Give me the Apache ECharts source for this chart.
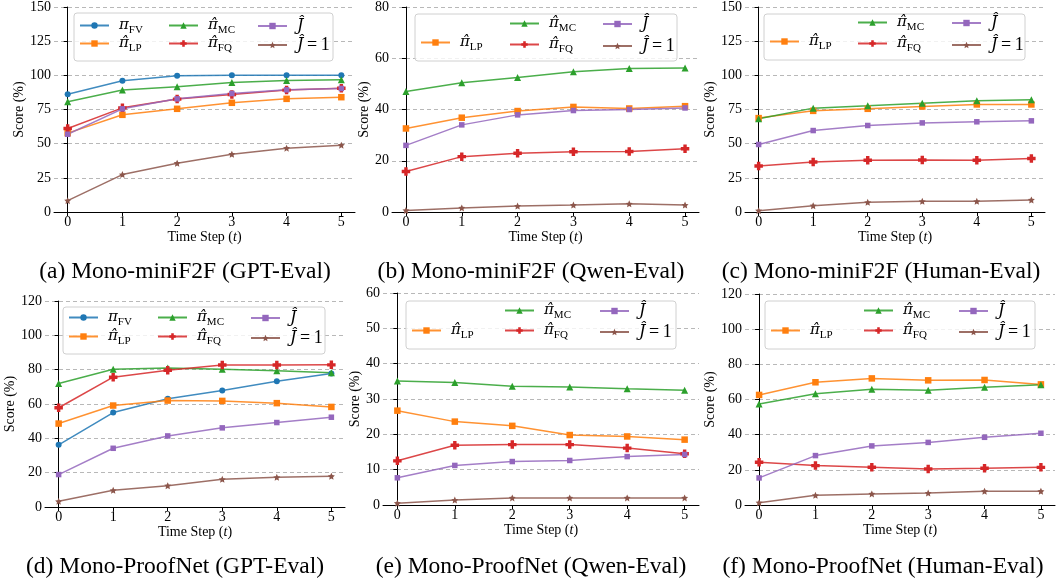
<!DOCTYPE html>
<html><head><meta charset="utf-8">
<script src="https://cdn.jsdelivr.net/npm/echarts@6/dist/echarts.min.js"></script>
<style>html,body{margin:0;padding:0;background:#fff}#c{width:1056px;height:581px}</style>
</head><body><div id="c"></div>
<script>
// ---------- data ----------
const steps = [0, 1, 2, 3, 4, 5];
const tickLabels = ['0', '1', '2', '3', '4', '5'];
const captions = ['(a) Mono-miniF2F (GPT-Eval)', '(b) Mono-miniF2F (Qwen-Eval)', '(c) Mono-miniF2F (Human-Eval)',
                  '(d) Mono-ProofNet (GPT-Eval)', '(e) Mono-ProofNet (Qwen-Eval)', '(f) Mono-ProofNet (Human-Eval)'];
const seriesKeys = ['FV', 'LP', 'MC', 'FQ', 'J', 'J1'];

const a_FV = [86.2, 96.0, 99.7, 100, 100, 100];
const a_LP = [57.7, 71.1, 75.5, 79.9, 82.8, 84.0];
const a_MC = [80.6, 89.2, 91.6, 94.8, 96.3, 96.7];
const a_FQ = [61.1, 76.2, 82.6, 86.0, 89.2, 90.6];
const a_J  = [56.9, 75.5, 82.8, 86.7, 89.4, 90.4];
const a_J1 = [8.3, 27.4, 35.7, 42.3, 46.7, 48.9];

const b_LP = [32.6, 36.8, 39.4, 41.0, 40.4, 41.3];
const b_MC = [47.0, 50.4, 52.5, 54.7, 56.0, 56.2];
const b_FQ = [15.8, 21.6, 22.9, 23.5, 23.6, 24.7];
const b_J  = [26.0, 34.0, 37.9, 39.6, 40.0, 40.6];
const b_J1 = [0.6, 1.6, 2.3, 2.7, 3.2, 2.7];

const c_LP = [68.7, 74.0, 75.5, 77.2, 78.7, 78.7];
const c_MC = [68.2, 76.0, 77.7, 79.6, 81.4, 82.1];
const c_FQ = [33.7, 36.6, 37.9, 38.1, 37.9, 39.1];
const c_J  = [49.4, 59.6, 63.3, 65.2, 66.0, 66.7];
const c_J1 = [1.0, 4.6, 7.1, 7.8, 7.8, 8.8];

const d_FV = [36.2, 55.0, 63.0, 67.9, 73.3, 77.8];
const d_LP = [48.6, 59.1, 62.0, 61.8, 60.5, 58.3];
const d_MC = [72.0, 80.3, 80.9, 80.3, 79.3, 78.2];
const d_FQ = [57.8, 75.6, 79.7, 82.7, 82.7, 82.8];
const d_J  = [18.9, 34.2, 41.4, 46.1, 49.2, 52.3];
const d_J1 = [3.3, 9.7, 12.4, 16.1, 17.3, 17.9];

const e_LP = [26.7, 23.6, 22.4, 19.8, 19.4, 18.5];
const e_MC = [35.1, 34.7, 33.6, 33.4, 32.9, 32.5];
const e_FQ = [12.5, 16.9, 17.1, 17.1, 16.1, 14.5];
const e_J  = [7.7, 11.2, 12.3, 12.6, 13.7, 14.3];
const e_J1 = [0.5, 1.4, 2.0, 2.0, 2.0, 2.0];

const f_LP = [62.6, 69.8, 72.0, 70.9, 71.1, 68.6];
const f_MC = [57.4, 63.3, 65.8, 65.2, 66.9, 68.4];
const f_FQ = [24.3, 22.4, 21.5, 20.5, 20.9, 21.4];
const f_J  = [15.4, 28.1, 33.6, 35.6, 38.5, 40.8];
const f_J1 = [1.3, 5.5, 6.3, 6.8, 7.8, 7.8];

const yMax = [150, 80, 150, 120, 60, 120];
const yInterval = [25, 20, 25, 20, 10, 20];

const panelData = [
  {FV: a_FV, LP: a_LP, MC: a_MC, FQ: a_FQ, J: a_J, J1: a_J1},
  {LP: b_LP, MC: b_MC, FQ: b_FQ, J: b_J, J1: b_J1},
  {LP: c_LP, MC: c_MC, FQ: c_FQ, J: c_J, J1: c_J1},
  {FV: d_FV, LP: d_LP, MC: d_MC, FQ: d_FQ, J: d_J, J1: d_J1},
  {LP: e_LP, MC: e_MC, FQ: e_FQ, J: e_J, J1: e_J1},
  {LP: f_LP, MC: f_MC, FQ: f_FQ, J: f_J, J1: f_J1}
];

// ---------- styles / layout ----------
const SERIF = '"Liberation Serif", "DejaVu Serif", serif';
const MATH = '"DejaVu Serif", serif';
const colors = {FV: '#1f77b4', LP: '#ff7f0e', MC: '#2ca02c', FQ: '#d62728', J: '#9467bd', J1: '#8c564b'};
const symbols = {
  FV: 'circle', LP: 'rect', MC: 'triangle',
  FQ: 'path://M3,0H7V3H10V7H7V10H3V7H0V3H3Z',
  J: 'rect',
  J1: 'path://M5,0L6.5,3.2L10,3.6L7.4,6L8.1,9.6L5,7.8L1.9,9.6L2.6,6L0,3.6L3.5,3.2Z'
};
const symSizes = {FV: 6, LP: 6.5, MC: 7, FQ: 8.5, J: 5.5, J1: 7};

const grids = [
  {left: 54, top: 7, width: 301, height: 205},
  {left: 392, top: 7, width: 307, height: 205},
  {left: 745, top: 7, width: 300, height: 205},
  {left: 45, top: 301, width: 300, height: 206},
  {left: 383, top: 293, width: 316, height: 212},
  {left: 745, top: 294, width: 310, height: 211}
];
const yNameGap = [23, 18, 22, 26, 19, 25];
const captionPos = [[185, 272], [531, 272], [881, 272], [175, 567], [531, 567], [883, 567]];
const legendBoxes = [
  [74, 13, 259, 48], [415, 14, 262, 47], [764, 14, 261, 46],
  [63, 307, 262, 47], [406, 301, 270, 48], [765, 301, 270, 48]
];
const legendSpots = [
  {FV: [79, 28], LP: [79, 46], MC: [168, 28], FQ: [168, 46], J: [257, 28], J1: [257, 46]},
  {LP: [420, 45], MC: [509, 26], FQ: [509, 47], J: [602, 26], J1: [602, 47]},
  {LP: [769, 44], MC: [857, 25], FQ: [857, 46], J: [951, 25], J1: [951, 46]},
  {FV: [68, 320], LP: [68, 339], MC: [157, 320], FQ: [157, 339], J: [250, 320], J1: [250, 339]},
  {LP: [411, 333], MC: [504, 313], FQ: [504, 333], J: [599, 313], J1: [599, 333]},
  {LP: [770, 333], MC: [863, 313], FQ: [863, 333], J: [958, 313], J1: [958, 333]}
];

const legendLabel = {
  FV: '{g|}{pi|π}{sub|FV}',
  LP: '{g|}{pi|π\u0302}{sub|LP}',
  MC: '{g|}{pi|π\u0302}{sub|MC}',
  FQ: '{g|}{pi|π\u0302}{sub|FQ}',
  J: '{g|}{ji|J\u0302}',
  J1: '{g|}{ji|J\u0302}{rm|\u2009=\u20091}'
};
const legendRich = {
  g: {width: 5},
  pi: {fontFamily: MATH, fontStyle: 'italic', fontSize: 15, lineHeight: 20, color: '#000', verticalAlign: 'middle'},
  sub: {fontFamily: SERIF, fontSize: 11, lineHeight: 10, color: '#000', verticalAlign: 'bottom'},
  ji: {fontFamily: MATH, fontStyle: 'italic', fontSize: 16, lineHeight: 20, color: '#000'},
  rm: {fontFamily: SERIF, fontSize: 18, lineHeight: 20, color: '#000'}
};

const option = {
  animation: false,
  backgroundColor: '#fff',
  grid: grids.map(g => Object.assign({containLabel: false}, g)),
  xAxis: [], yAxis: [], series: [], legend: [], graphic: []
};

grids.forEach((g, i) => {
  option.xAxis.push({
    gridIndex: i, type: 'value', min: -0.25, max: 5.25,
    name: '{n|Time Step (}{i|t}{n|)}', nameLocation: 'middle', nameGap: 16,
    nameTextStyle: {rich: {
      n: {fontFamily: SERIF, fontSize: 14, color: '#000'},
      i: {fontFamily: SERIF, fontSize: 14, fontStyle: 'italic', color: '#000'}
    }},
    axisLine: {lineStyle: {color: '#000', width: 1}},
    axisTick: {show: true, length: 4, lineStyle: {color: '#000'}, customValues: steps},
    axisLabel: {customValues: steps, formatter: v => tickLabels[steps.indexOf(v)],
      fontFamily: SERIF, fontSize: 14, color: '#000', margin: 3},
    splitLine: {show: false}
  });
  option.yAxis.push({
    gridIndex: i, type: 'value', min: 0, max: yMax[i], interval: yInterval[i],
    name: 'Score (%)', nameLocation: 'middle', nameGap: yNameGap[i],
    nameTextStyle: {fontFamily: SERIF, fontSize: 14, color: '#000'},
    axisLine: {show: true, lineStyle: {color: '#000', width: 1}},
    axisTick: {show: true, length: 4, lineStyle: {color: '#000'}},
    axisLabel: {fontFamily: SERIF, fontSize: 14, color: '#000', margin: 3},
    splitLine: {show: true, lineStyle: {color: '#b8b8b8', type: [4, 3], width: 1}}
  });
  const pd = panelData[i];
  seriesKeys.forEach(k => {
    if (!pd[k]) return;
    option.series.push({
      type: 'line', name: k, xAxisIndex: i, yAxisIndex: i,
      data: steps.map((s, j) => [s, pd[k][j]]),
      symbol: symbols[k], symbolSize: symSizes[k], showSymbol: true,
      lineStyle: {color: colors[k], width: 1.5, opacity: 0.85},
      itemStyle: {color: colors[k]},
      emphasis: {disabled: true}, z: 2
    });
    const sp = legendSpots[i][k];
    option.legend.push({
      left: sp[0], top: sp[1] - 10, padding: 0, itemWidth: 29, itemHeight: 8,
      data: [k], selectedMode: false, z: 5,
      formatter: n => legendLabel[n],
      textStyle: {rich: legendRich}
    });
  });
  const lb = legendBoxes[i];
  option.graphic.push({
    type: 'rect', z: 3,
    shape: {x: lb[0], y: lb[1], width: lb[2], height: lb[3], r: 3},
    style: {fill: 'rgba(255,255,255,0.8)', stroke: '#d0d0d0', lineWidth: 1}
  });
  option.graphic.push({
    type: 'text', z: 3, x: captionPos[i][0], y: captionPos[i][1],
    style: {text: captions[i], fontFamily: SERIF, fontSize: 23.5, fill: '#000',
      textAlign: 'center', textVerticalAlign: 'middle'}
  });
});

const chart = echarts.init(document.getElementById('c'), null, {renderer: 'canvas'});
chart.setOption(option);
</script>
</body></html>
